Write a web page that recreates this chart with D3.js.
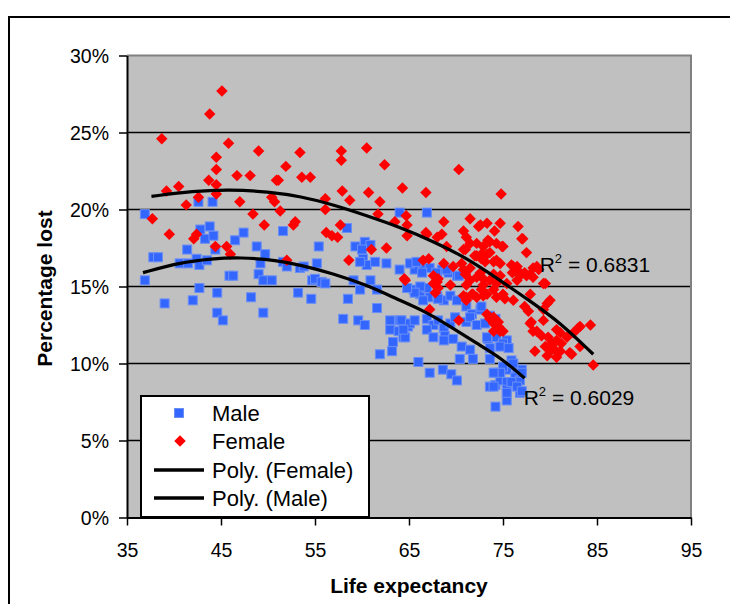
<!DOCTYPE html>
<html>
<head>
<meta charset="utf-8">
<script src="https://cdn.jsdelivr.net/npm/d3@7"></script>
<style>
    body { margin: 0; background: #fff; }
    text { font-family: Arial, "Liberation Sans", sans-serif; fill: #000; }
</style>
</head>
<body>
<div id="graphWrapper"></div>
<script>
// [life expectancy, percentage lost]
var maleData = [
    [36.9,19.7],[37.8,16.9],[38.3,16.9],[36.9,15.4],[39.0,13.9],[40.6,16.5],[41.5,16.5],[41.4,17.4],
    [42.4,16.8],[42.7,16.4],[42.8,18.7],[43.3,18.1],[43.8,18.9],[44.2,18.3],[44.4,17.4],[43.5,16.7],
    [42.7,14.9],[42.0,14.1],[44.6,14.6],[44.6,13.3],[45.2,12.8],[45.9,15.7],[46.3,15.7],[46.5,18.0],
    [47.4,18.5],[48.8,17.6],[49.7,17.1],[49.2,16.5],[49.0,15.8],[49.5,15.4],[50.4,15.4],[48.2,14.3],
    [49.5,13.3],[42.6,20.5],[44.1,20.5],[51.6,18.6],[58.4,18.8],[64.0,19.8],[66.9,19.8],[55.4,17.6],
    [59.3,17.6],[60.3,17.9],[60.9,17.7],[60.0,17.4],[60.1,16.8],[60.5,16.4],[59.8,16.6],[61.4,16.6],
    [62.6,16.5],[64.0,16.1],[65.3,16.5],[65.6,16.1],[66.5,16.3],[67.2,16.2],[68.0,15.7],[68.5,16.1],
    [69.2,15.9],[70.1,15.7],[51.6,16.6],[52.0,16.3],[53.4,16.2],[53.8,16.3],[55.2,16.5],[54.7,15.4],
    [55.0,15.5],[55.7,15.3],[56.1,15.2],[53.2,14.6],[54.6,14.2],[58.5,14.2],[59.8,14.8],[61.6,14.8],
    [59.1,15.4],[60.9,15.4],[61.6,13.6],[58.0,12.9],[59.6,12.8],[60.3,12.5],[61.9,10.6],[63.0,12.8],
    [64.0,12.8],[64.9,12.4],[63.0,12.2],[63.9,12.1],[64.4,11.7],[63.3,11.4],[63.2,10.8],[66.0,10.1],
    [67.2,9.4],[68.6,9.6],[69.5,9.3],[70.1,8.9],[73.6,8.5],[74.2,8.6],[65.5,14.8],[66.2,14.5],
    [66.9,14.9],[67.2,14.3],[66.5,14.1],[68.0,14.4],[68.7,14.1],[66.4,15.9],[66.2,15.0],[65.6,14.6],
    [64.8,14.9],[68.1,14.2],[69.4,14.4],[70.1,14.1],[71.1,13.7],[71.7,13.2],[72.6,13.5],[64.2,12.8],
    [65.1,12.6],[65.6,12.8],[66.9,12.9],[67.6,12.5],[68.1,12.8],[68.7,12.3],[69.4,12.6],[69.9,13.0],
    [71.1,12.7],[71.5,13.0],[72.2,12.5],[64.6,11.7],[64.4,12.2],[66.9,12.2],[67.6,11.7],[68.8,11.8],
    [69.7,11.6],[68.7,11.5],[70.6,11.1],[71.5,10.9],[71.8,10.3],[70.4,10.3],[73.4,11.6],[73.6,11.0],
    [75.4,11.5],[73.6,10.3],[74.2,9.4],[75.4,9.6],[75.9,10.2],[76.5,9.6],[77.0,9.6],[74.7,8.9],
    [75.4,8.8],[76.3,9.1],[76.8,8.9],[74.0,8.5],[75.4,8.3],[76.8,8.1],[74.2,7.2],[75.4,7.6],
    [72.7,13.7],[73.6,13.1],[74.2,12.9],[73.1,12.6],[73.3,11.7],[74.3,11.7],[75.0,11.3],[74.7,11.1],
    [75.6,11.0],[76.1,10.0],[77.0,9.4],[75.0,9.8],[74.7,9.4],[74.0,9.4],[75.9,8.8],[76.5,8.5],
    [77.0,8.2],[75.4,8.1],[65.1,16.5],[65.8,16.6],[67.9,15.9],[69.0,16.1],[70.3,15.7]
];

var femaleData = [
    [45.1,27.7],[43.8,26.2],[38.7,24.6],[45.8,24.3],[49.0,23.8],[44.5,23.4],[44.5,22.6],[46.7,22.2],
    [48.1,22.2],[43.7,21.9],[50.9,21.9],[44.5,21.6],[40.5,21.5],[39.2,21.2],[44.5,21.0],[42.6,20.8],
    [47.0,20.5],[41.3,20.3],[48.4,19.7],[37.7,19.4],[49.6,19.0],[39.5,18.4],[42.1,18.1],[42.4,18.4],
    [44.4,17.6],[45.6,17.6],[46.0,17.1],[53.4,23.7],[57.8,23.8],[60.5,24.0],[57.8,23.2],[62.4,22.9],
    [70.3,22.6],[51.9,22.8],[51.1,21.9],[53.6,22.1],[54.5,22.1],[57.9,21.2],[60.7,21.1],[64.3,21.4],
    [66.8,21.1],[56.1,20.7],[58.7,20.6],[61.9,20.5],[50.4,20.8],[50.7,20.5],[51.3,19.9],[56.1,20.0],
    [61.7,19.7],[64.7,19.6],[52.9,19.2],[52.7,19.0],[57.7,19.0],[56.2,18.5],[56.8,18.3],[57.4,18.2],
    [63.5,19.2],[64.8,19.0],[68.7,19.2],[71.5,19.4],[72.6,19.0],[73.3,19.1],[74.1,18.6],[70.8,18.6],
    [71.1,18.2],[66.8,18.5],[68.0,18.2],[68.5,18.4],[74.8,21.0],[74.7,19.1],[76.6,18.9],[77.1,18.1],
    [52.0,16.7],[58.6,16.7],[61.0,17.4],[62.6,17.5],[64.8,18.3],[66.9,18.4],[69.0,17.6],[70.8,17.4],
    [72.2,17.8],[72.9,17.6],[73.6,17.9],[74.3,17.8],[72.2,17.0],[73.3,17.1],[74.0,16.6],[66.5,16.7],
    [67.1,16.8],[68.7,16.5],[69.7,16.3],[67.6,15.7],[68.0,15.3],[68.1,14.9],[69.4,15.1],[71.0,15.8],
    [71.5,15.4],[72.2,15.6],[72.9,15.5],[73.6,15.4],[74.3,15.2],[71.1,14.3],[71.8,14.5],[72.9,14.4],
    [74.0,14.8],[64.5,15.5],[67.2,13.5],[70.3,12.8],[73.3,13.2],[74.0,13.0],[77.5,17.2],[74.9,17.6],
    [72.7,16.8],[74.7,16.5],[75.9,16.4],[76.5,16.3],[76.0,15.9],[76.8,15.7],[77.3,15.9],[77.9,15.8],
    [78.2,16.2],[78.8,16.1],[79.5,15.2],[80.0,14.1],[75.2,14.2],[76.1,14.1],[77.3,13.7],[77.7,13.4],
    [79.3,13.5],[77.9,12.6],[78.2,12.1],[74.5,12.7],[74.7,12.1],[79.1,11.8],[79.5,11.1],[78.4,10.8],
    [79.7,10.5],[80.5,10.9],[81.2,11.3],[81.8,11.7],[82.5,12.0],[83.2,12.4],[84.3,12.5],[82.1,10.7],
    [83.2,11.1],[81.1,10.8],[84.6,9.9],[80.2,11.3],[80.7,11.5],[79.8,11.7],[79.3,12.8],[83.0,12.3],
    [82.3,10.6],[81.1,12.0],[72.4,18.9],[71.5,17.8],[71.0,17.4],[73.4,18.0],[75.0,17.6],[77.0,18.1],
    [72.0,17.0],[72.7,17.1],[73.6,17.2],[74.3,16.7],[73.1,16.6],[70.6,16.5],[71.5,16.2],[70.8,16.1],
    [76.1,16.3],[76.8,15.9],[78.6,16.3],[72.6,15.9],[74.0,15.8],[74.7,15.7],[64.6,15.4],[67.6,15.2],
    [68.1,15.5],[71.1,15.1],[72.9,15.1],[67.8,14.6],[70.8,14.4],[71.7,14.5],[72.7,14.8],[75.4,15.2],
    [76.5,15.4],[77.5,15.7],[78.2,15.6],[79.3,15.2],[71.1,14.1],[72.2,14.3],[73.3,14.5],[74.3,14.3],
    [75.0,14.5],[77.9,14.5],[79.7,13.9],[73.6,12.9],[74.0,12.6],[74.5,12.4],[75.0,12.1],[74.0,12.1],
    [78.0,12.7],[78.6,12.1],[80.2,10.9],[80.7,12.2],[80.7,10.4]
];

// polynomial trendlines
var femaleTrend = [
    [37.6,20.85],[42,21.2],[46,21.3],[50,21.15],[53.5,20.85],[57,20.3],[60.5,19.6],[64,18.86],
    [67.5,17.95],[71,16.9],[74.7,15.4],[78,14.0],[81,12.7],[84.6,10.6]
];
var maleTrend = [
    [36.7,15.9],[40.6,16.55],[44,16.8],[47,16.9],[51,16.7],[53.4,16.4],[56.9,15.85],[60.5,15.1],
    [64,14.1],[66.5,13.45],[69.4,12.4],[72.2,11.3],[74.7,10.4],[77.3,9.05]
];

var xTicks = [35, 45, 55, 65, 75, 85, 95];
var yTicks = [0, 5, 10, 15, 20, 25, 30];
var legendLabels = ["Male", "Female", "Poly. (Female)", "Poly. (Male)"];
var rSquared = [
    {series: "Female", value: "0.6831", at: [78.9, 15.95]},
    {series: "Male", value: "0.6029", at: [77.2, 7.3]}
];

var w = 730;
var h = 604;
var margin = {top: 55.5, bottom: 86.5, left: 127, right: 39};
var width = w - margin.left - margin.right;
var height = h - margin.top - margin.bottom;

var svg = d3.select("#graphWrapper").append("svg")
    .attr("id", "chart")
    .attr("width", w)
    .attr("height", h);

// outer chart frame
svg.append("path")
    .attr("d", "M9,604V17H730")
    .attr("fill", "none")
    .attr("stroke", "#000")
    .attr("stroke-width", 2);

var chart = svg.append("g")
    .attr("transform", "translate(" + margin.left + "," + margin.top + ")");

var x = d3.scaleLinear().domain([35, 95]).range([0, width]);
var y = d3.scaleLinear().domain([0, 30]).range([height, 0]);

// plot area
chart.append("rect")
    .attr("width", width)
    .attr("height", height)
    .attr("fill", "#c0c0c0");

chart.selectAll(".grid")
    .data(yTicks.slice(1, -1))
    .enter().append("line")
    .classed("grid", true)
    .attr("x1", 0).attr("x2", width)
    .attr("y1", function(d){ return y(d); })
    .attr("y2", function(d){ return y(d); })
    .attr("stroke", "#000")
    .attr("stroke-width", 1.5);

chart.append("path")
    .attr("d", "M0,0H" + width + "V" + height)
    .attr("fill", "none")
    .attr("stroke", "#808080")
    .attr("stroke-width", 2);

// axes
var xAxis = d3.axisBottom(x).tickValues(xTicks).tickSize(8).tickSizeOuter(0)
    .tickFormat(d3.format("d"));
var yAxis = d3.axisLeft(y).tickValues(yTicks).tickSize(8).tickSizeOuter(0)
    .tickFormat(function(d){ return d + "%"; });

var gx = chart.append("g")
    .attr("transform", "translate(0," + height + ")")
    .call(xAxis);
var gy = chart.append("g").call(yAxis);

[gx, gy].forEach(function(g){
    g.select(".domain").attr("stroke", "#000").attr("stroke-width", 2);
    g.selectAll(".tick line").attr("stroke", "#000").attr("stroke-width", 1.5);
    g.selectAll(".tick text")
        .style("font-family", "Arial, 'Liberation Sans', sans-serif")
        .style("font-size", "19.5px")
        .attr("fill", "#000");
});
gx.selectAll(".tick text").attr("dy", null).attr("y", 39);
gy.selectAll(".tick text").attr("dy", "0.36em").attr("x", -18);

// scatter points
chart.selectAll(".male")
    .data(maleData)
    .enter().append("rect")
    .classed("male", true)
    .attr("x", function(d){ return x(d[0]) - 4.5; })
    .attr("y", function(d){ return y(d[1]) - 4.5; })
    .attr("width", 9)
    .attr("height", 9)
    .attr("fill", "#3366ff")
    .attr("stroke", "#6b8ff5")
    .attr("stroke-width", 1);

var diamond = d3.symbol().type(d3.symbolSquare).size(66);
chart.selectAll(".female")
    .data(femaleData)
    .enter().append("path")
    .classed("female", true)
    .attr("d", diamond)
    .attr("transform", function(d){
        return "translate(" + x(d[0]) + "," + y(d[1]) + ") rotate(45)";
    })
    .attr("fill", "#ff0000");

// trendlines
var line = d3.line()
    .x(function(d){ return x(d[0]); })
    .y(function(d){ return y(d[1]); })
    .curve(d3.curveBasis);

chart.selectAll(".trendline")
    .data([femaleTrend, maleTrend])
    .enter().append("path")
    .classed("trendline", true)
    .attr("d", line)
    .attr("fill", "none")
    .attr("stroke", "#000")
    .attr("stroke-width", 3.2);

// R squared labels
var rLabels = chart.selectAll(".rsq")
    .data(rSquared)
    .enter().append("text")
    .classed("rsq", true)
    .attr("x", function(d){ return x(d.at[0]); })
    .attr("y", function(d){ return y(d.at[1]); })
    .style("font-size", "21px");
rLabels.append("tspan").text("R");
rLabels.append("tspan").attr("dy", -9).style("font-size", "13px").text("2");
rLabels.append("tspan").attr("dy", 9).text(function(d){ return " = " + d.value; });

// axis titles
svg.append("text")
    .attr("text-anchor", "middle")
    .attr("transform", "translate(52," + (margin.top + height / 2 + 2) + ") rotate(-90)")
    .style("font-size", "21px")
    .style("font-weight", "bold")
    .text("Percentage lost");

svg.append("text")
    .attr("x", margin.left + width / 2)
    .attr("y", 593)
    .attr("text-anchor", "middle")
    .style("font-size", "21px")
    .style("font-weight", "bold")
    .text("Life expectancy");

// legend
var legend = svg.append("g").attr("transform", "translate(141,396)");
legend.append("rect")
    .attr("width", 228)
    .attr("height", 121)
    .attr("fill", "#fff")
    .attr("stroke", "#000")
    .attr("stroke-width", 2);

var rowY = [17, 45, 74, 102];
legend.append("rect")
    .attr("x", 38 - 4.5).attr("y", rowY[0] - 4.5)
    .attr("width", 9).attr("height", 9)
    .attr("fill", "#3366ff").attr("stroke", "#6b8ff5");
legend.append("path")
    .attr("d", diamond)
    .attr("transform", "translate(39," + rowY[1] + ") rotate(45)")
    .attr("fill", "#ff0000");
[rowY[2], rowY[3]].forEach(function(ry){
    legend.append("line")
        .attr("x1", 13).attr("x2", 63)
        .attr("y1", ry).attr("y2", ry)
        .attr("stroke", "#000")
        .attr("stroke-width", 3.5);
});
legend.selectAll(".legendText")
    .data(legendLabels)
    .enter().append("text")
    .classed("legendText", true)
    .attr("x", 71)
    .attr("y", function(d, i){ return rowY[i] + 8; })
    .style("font-size", "22px")
    .text(function(d){ return d; });
</script>
</body>
</html>
